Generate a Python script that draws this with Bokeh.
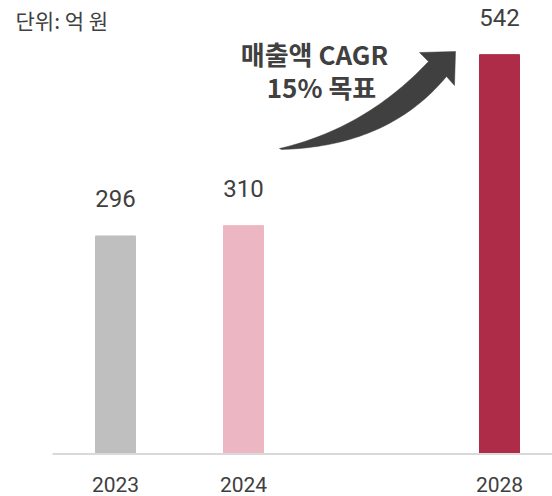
from bokeh.plotting import figure
from bokeh.models import Range1d
from bokeh.core.properties import value
from bokeh.embed import file_html
from bokeh.resources import INLINE

# ---- data ----
years = ["2023", "2024", "2028"]
revenue = [296, 310, 542]
bar_colors = ["#bfbfbf", "#ecb6c3", "#ae2c48"]
slots = ["2023", "2024", "", "2028"]   # one empty slot between 2024 and 2028
unit_label = "단위: 억 원"
note_lines = ["매출액 CAGR", "15% 목표"]

# ---- layout ----
W, H = 552, 496
MARGIN = 0
SLOT_PX = 128.0
FIRST_CENTER_PX = 115.0      # x of first slot centre
BASE_PX = 453.6              # y of the zero line
PX_PER_UNIT = 0.737          # vertical scale

X0 = -(FIRST_CENTER_PX - MARGIN) / SLOT_PX
X1 = X0 + W / SLOT_PX
Y1 = (BASE_PX - MARGIN) / PX_PER_UNIT
Y0 = -(MARGIN + H - BASE_PX) / PX_PER_UNIT


def px(xp, yp):
    """picture pixel -> data coordinates (for decorations only)"""
    return X0 + (xp - MARGIN) / SLOT_PX, Y1 - (yp - MARGIN) / PX_PER_UNIT


xs = [slots.index(y) for y in years]

p = figure(width=W, height=H, output_backend="svg", toolbar_location=None,
           x_range=Range1d(X0, X1), y_range=Range1d(Y0, Y1),
           min_border=0, x_axis_location=None, y_axis_location=None)
p.outline_line_color = None
p.grid.visible = False
p.background_fill_color = "white"
p.border_fill_color = "white"

TXT = "#404040"

# bars
p.vbar(x=xs, top=revenue, bottom=0, width=40 / SLOT_PX, color=bar_colors)

# baseline
bx0, _ = px(52, 0)
p.segment(x0=[bx0], y0=[0], x1=[X1], y1=[0], line_color="#d9d9d9", line_width=2)

# value labels
p.text(x=xs, y=[v + 37.5 / PX_PER_UNIT for v in revenue], text=[str(v) for v in revenue],
       text_font=value("Roboto"), text_font_size="24px", text_color=TXT,
       text_align="center", text_baseline="middle")

# year labels
_, ylab = px(0, 484)
p.text(x=xs, y=[ylab] * len(xs), text=years,
       text_font=value("Roboto"), text_font_size="21px", text_color=TXT,
       text_align="center", text_baseline="middle")

# unit label
ux, uy = px(15, 19)
p.text(x=[ux], y=[uy], text=[unit_label], text_font=value("Noto Sans CJK KR"),
       text_font_size="21px", text_color=TXT, text_align="left", text_baseline="middle")

# annotation text
for (cx, cy), line in zip([(314, 53), (321, 86)], note_lines):
    tx, ty = px(cx, cy)
    p.text(x=[tx], y=[ty], text=[line], text_font=value("Noto Sans CJK KR"),
           text_font_size="26px", text_font_style="bold", text_color=TXT,
           text_align="center", text_baseline="middle")


# curved arrow
def qbez(p0, c, p2, n=40):
    pts = []
    for i in range(n + 1):
        t = i / n
        x = (1 - t) ** 2 * p0[0] + 2 * (1 - t) * t * c[0] + t ** 2 * p2[0]
        y = (1 - t) ** 2 * p0[1] + 2 * (1 - t) * t * c[1] + t ** 2 * p2[1]
        pts.append((x, y))
    return pts


upper = qbez((279, 148), (365, 128), (428, 61))
lower = qbez((281, 149), (388, 146), (446, 76))
head = [(419, 52), (455, 51), (454, 85)]
poly = upper + head + lower[::-1]
ax = [px(a, b)[0] for a, b in poly]
ay = [px(a, b)[1] for a, b in poly]
p.patch(ax, ay, fill_color="#404040", line_color="#404040", line_width=0.5)

open("out.html", "w").write(file_html(p, INLINE))
